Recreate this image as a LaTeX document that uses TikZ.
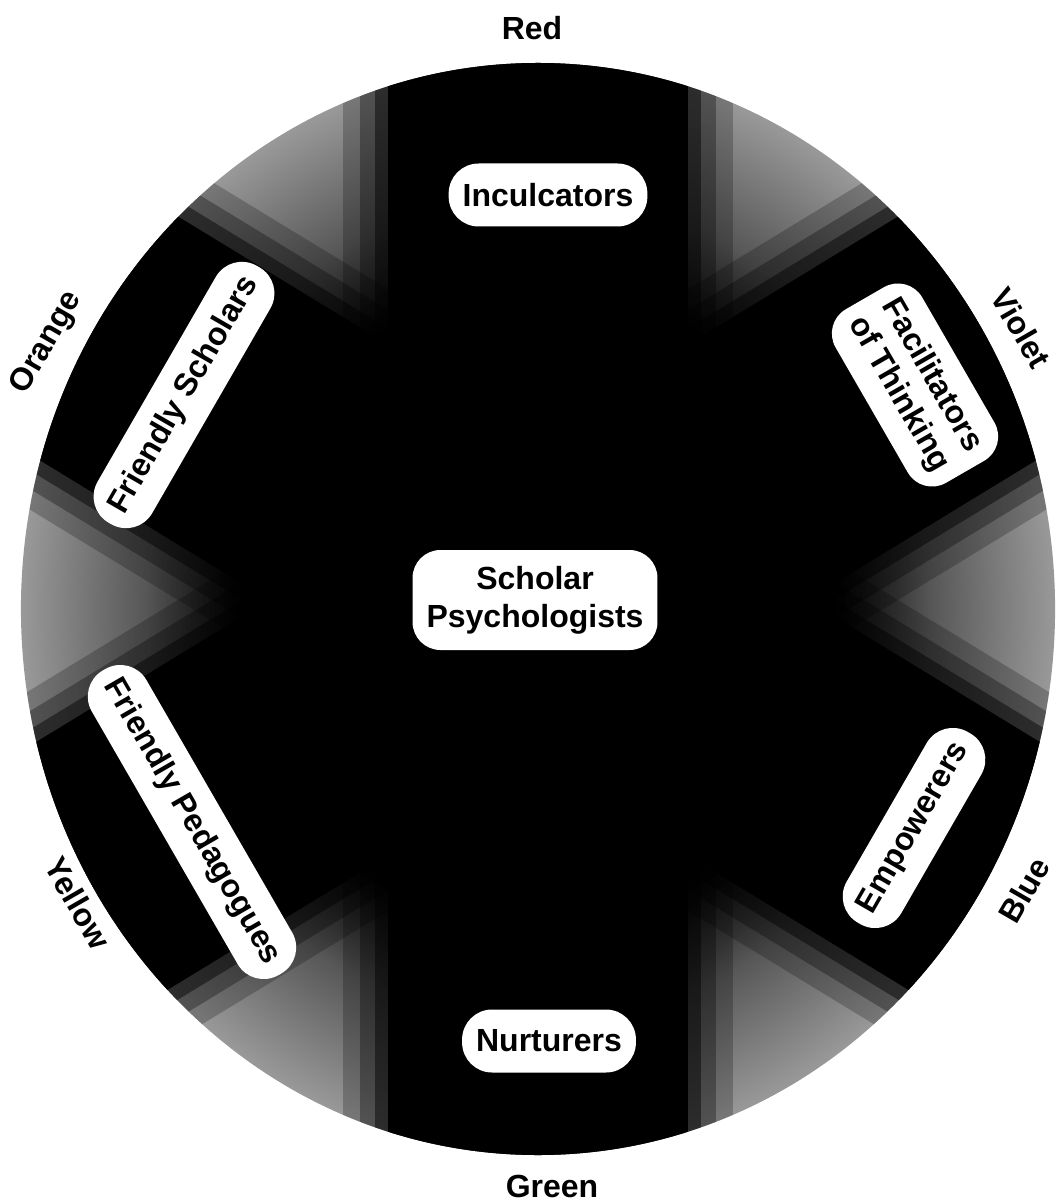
\documentclass[tikz,border=0pt]{standalone}
\usepackage{fontspec}
\setmainfont{Liberation Sans}
\pgfdeclareradialshading{diskshade}{\pgfpoint{0bp}{0bp}}{color(0bp)=(black); color(14bp)=(black); color(19bp)=(black!66); color(25bp)=(black!40); color(50bp)=(black!40)}
\begin{document}
\begin{tikzpicture}[x=0.5pt,y=-0.5pt,
  pill/.style={fill=white, rounded corners=15pt, minimum height=31.5pt, inner xsep=7pt, inner ysep=2pt,
    font=\bfseries\fontsize{16}{19}\selectfont, align=center, text=black},
  twoline/.style={pill, rounded corners=14pt, minimum height=50pt},
  outer/.style={font=\bfseries\fontsize{16}{19}\selectfont, text=black}]
\useasboundingbox (0,0) rectangle (1056,1202);
\fill[white] (0,0) rectangle (1056,1202);
% the wheel
\begin{scope}[shift={(538,600)}, xscale=0.947]
  \shade[shading=diskshade] (0,9) circle (546);
  \clip (0,9) circle (546);
  \foreach \a/\w in {90/158,30/142,150/142} {
    \fill[black, opacity=0.22, rotate=\a] (-700,-\w-48) rectangle (700,\w+48);
    \fill[black, opacity=0.3, rotate=\a] (-700,-\w-30) rectangle (700,\w+30);
    \fill[black, opacity=0.45, rotate=\a] (-700,-\w-14) rectangle (700,\w+14);
    \fill[black, rotate=\a] (-700,-\w) rectangle (700,\w);
  }
\end{scope}
% labels inside the wheel
\node[pill] (inc) at (548,195) {Inculcators};
\node[pill] (nur) at (549,1041) {Nurturers};
\node[pill, rotate=60] (fsch) at (184,395) {Friendly Scholars};
\node[pill, rotate=-60] (fped) at (192,822) {Friendly Pedagogues};
\node[pill, rotate=60] (emp) at (914,828) {Empowerers};
\node[twoline, rotate=-60] (fac) at (915,385) {Facilitators\\of Thinking};
\node[twoline] (sp) at (535,600) {Scholar\\Psychologists};
% colour names
\node[outer] (red) at (532,28) {Red};
\node[outer] (green) at (552,1186) {Green};
\node[outer, rotate=60] (orange) at (47,343) {Orange};
\node[outer, rotate=-60] (violet) at (1021,328) {Violet};
\node[outer, rotate=-60] (yellow) at (78,903) {Yellow};
\node[outer, rotate=60] (blue) at (1024,890) {Blue};
\end{tikzpicture}
\end{document}
